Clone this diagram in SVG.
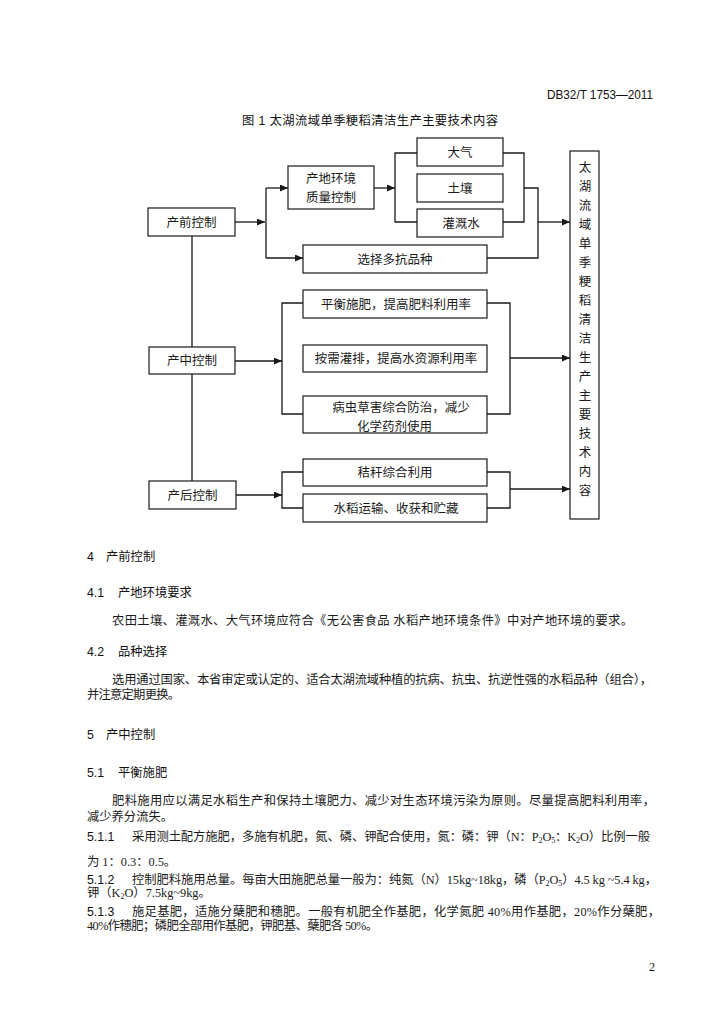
<svg xmlns="http://www.w3.org/2000/svg" width="724" height="1024" viewBox="0 0 724 1024">
<style>
.bg{fill:#ffffff}
.box{fill:#ffffff;stroke:#1a1a1a;stroke-width:1.2}
.ln{fill:none;stroke:#1a1a1a;stroke-width:1.3}
.t{font-family:"Liberation Serif","Noto Sans CJK SC",serif;font-size:12.5px;fill:#1a1a1a;text-anchor:middle}
.b{font-family:"Liberation Serif","Noto Sans CJK SC",serif;font-size:12.3px;fill:#1a1a1a}
.h{font-family:"Liberation Sans","Noto Sans CJK SC",sans-serif;font-size:12.3px;fill:#111111}
.sub{font-size:8px}
</style>
<defs>
<marker id="arr" markerUnits="userSpaceOnUse" markerWidth="8" markerHeight="7" refX="8" refY="3.5" orient="auto">
<path d="M0,0 L8,3.5 L0,7 Z" fill="#1a1a1a"/>
</marker>
</defs>
<rect class="bg" x="0" y="0" width="724" height="1024"/>

<text class="h" x="547" y="99" font-size="11.5" textLength="106" lengthAdjust="spacingAndGlyphs">DB32/T 1753—2011</text>
<text class="h" x="242" y="124.5" font-size="12.5" font-weight="normal" textLength="256" lengthAdjust="spacing">图 1 太湖流域单季粳稻清洁生产主要技术内容</text>

<g id="connectors">
<path class="ln" d="M192,236 V347 M192,374 V481"/>
<path class="ln" d="M234,222 H265" marker-end="url(#arr)"/>
<path class="ln" d="M266,188 V258"/>
<path class="ln" d="M266,188 H288" marker-end="url(#arr)"/>
<path class="ln" d="M266,258 H303" marker-end="url(#arr)"/>
<path class="ln" d="M374,188 H395" marker-end="url(#arr)"/>
<path class="ln" d="M417,153 H395 V222 H417"/>
<path class="ln" d="M503,153 H524 V222 H503 M524,188 H538 V258 H487"/>
<path class="ln" d="M538,222 H570" marker-end="url(#arr)"/>
<path class="ln" d="M235,361 H282" marker-end="url(#arr)"/>
<path class="ln" d="M303,303 H282 V414 H303"/>
<path class="ln" d="M487,303 H510 V414 H487"/>
<path class="ln" d="M510,358 H570" marker-end="url(#arr)"/>
<path class="ln" d="M236,495 H282" marker-end="url(#arr)"/>
<path class="ln" d="M303,472 H282 V508 H303"/>
<path class="ln" d="M487,472 H510 V508 H487"/>
<path class="ln" d="M510,489 H570" marker-end="url(#arr)"/>
</g>

<g id="n_pre"><rect class="box" x="148" y="208" width="87" height="28"/><text class="t" x="191.5" y="226.5">产前控制</text></g>
<g id="n_env"><rect class="box" x="288" y="166" width="86" height="43"/><text class="t" x="331" y="182.5">产地环境</text><text class="t" x="331" y="201.5">质量控制</text></g>
<g id="n_air"><rect class="box" x="417" y="138" width="86" height="28"/><text class="t" x="460" y="156.5">大气</text></g>
<g id="n_soil"><rect class="box" x="417" y="174" width="86" height="28"/><text class="t" x="460" y="192.5">土壤</text></g>
<g id="n_water"><rect class="box" x="417" y="209" width="86" height="28"/><text class="t" x="461" y="227.5">灌溉水</text></g>
<g id="n_variety"><rect class="box" x="303" y="245" width="184" height="28"/><text class="t" x="395" y="263.5">选择多抗品种</text></g>
<g id="n_mid"><rect class="box" x="149" y="347" width="86" height="27"/><text class="t" x="192" y="365">产中控制</text></g>
<g id="n_fert"><rect class="box" x="303" y="290" width="184" height="28"/><text class="t" x="396" y="308.5">平衡施肥，提高肥料利用率</text></g>
<g id="n_irr"><rect class="box" x="303" y="345" width="184" height="27"/><text class="t" x="396" y="363">按需灌排，提高水资源利用率</text></g>
<g id="n_pest"><rect class="box" x="303" y="396" width="184" height="37"/><text class="t" x="401" y="411.5">病虫草害综合防治，减少</text><text class="t" x="394.5" y="431">化学药剂使用</text></g>
<g id="n_post"><rect class="box" x="149" y="481" width="87" height="28"/><text class="t" x="192.5" y="499.5">产后控制</text></g>
<g id="n_straw"><rect class="box" x="303" y="459" width="184" height="27"/><text class="t" x="395" y="477">秸秆综合利用</text></g>
<g id="n_trans"><rect class="box" x="303" y="494" width="184" height="28"/><text class="t" x="396" y="512.5">水稻运输、收获和贮藏</text></g>
<g id="n_main"><rect class="box" x="570" y="151" width="29" height="368"/>
<text class="t" x="585">
<tspan x="585" y="171.5">太</tspan><tspan x="585" y="190.5">湖</tspan><tspan x="585" y="209.5">流</tspan><tspan x="585" y="228.5">域</tspan><tspan x="585" y="247.5">单</tspan><tspan x="585" y="266.5">季</tspan><tspan x="585" y="285.5">粳</tspan><tspan x="585" y="304.5">稻</tspan><tspan x="585" y="323.5">清</tspan><tspan x="585" y="342.5">洁</tspan><tspan x="585" y="361.5">生</tspan><tspan x="585" y="380.5">产</tspan><tspan x="585" y="399.5">主</tspan><tspan x="585" y="418.5">要</tspan><tspan x="585" y="437.5">技</tspan><tspan x="585" y="456.5">术</tspan><tspan x="585" y="475.5">内</tspan><tspan x="585" y="494.5">容</tspan>
</text></g>

<g id="body">
<text class="h" x="87" y="561">4</text><text class="h" x="106" y="561">产前控制</text>
<text class="h" x="87" y="597">4.1</text><text class="h" x="118" y="597">产地环境要求</text>
<text class="b" x="112" y="625" textLength="521" lengthAdjust="spacing">农田土壤、灌溉水、大气环境应符合《无公害食品 水稻产地环境条件》中对产地环境的要求。</text>
<text class="h" x="87" y="656">4.2</text><text class="h" x="118" y="656">品种选择</text>
<text class="b" x="112" y="684" textLength="540" lengthAdjust="spacing">选用通过国家、本省审定或认定的、适合太湖流域种植的抗病、抗虫、抗逆性强的水稻品种（组合），</text>
<text class="b" x="87" y="699" textLength="93" lengthAdjust="spacing">并注意定期更换。</text>

<text class="h" x="87" y="739">5</text><text class="h" x="106" y="739">产中控制</text>
<text class="h" x="87" y="777">5.1</text><text class="h" x="118" y="777">平衡施肥</text>
<text class="b" x="112" y="805" textLength="543" lengthAdjust="spacing">肥料施用应以满足水稻生产和保持土壤肥力、减少对生态环境污染为原则。尽量提高肥料利用率，</text>
<text class="b" x="87" y="821" textLength="86" lengthAdjust="spacing">减少养分流失。</text>
<text class="h" x="87" y="841">5.1.1</text>
<text class="b" x="132" y="841" textLength="518" lengthAdjust="spacing">采用测土配方施肥，多施有机肥，氮、磷、钾配合使用，氮：磷：钾（N：P<tspan class="sub" dy="2">2</tspan><tspan dy="-2">O</tspan><tspan class="sub" dy="2">5</tspan><tspan dy="-2">：K</tspan><tspan class="sub" dy="2">2</tspan><tspan dy="-2">O）比例一般</tspan></text>
<text class="b" x="87" y="866">为 1：0.3：0.5。</text>
<text class="h" x="87" y="884">5.1.2</text>
<text class="b" x="132" y="884" textLength="525" lengthAdjust="spacing">控制肥料施用总量。每亩大田施肥总量一般为：纯氮（N）15kg~18kg，磷（P<tspan class="sub" dy="2">2</tspan><tspan dy="-2">O</tspan><tspan class="sub" dy="2">5</tspan><tspan dy="-2">）4.5 kg ~5.4 kg，</tspan></text>
<text class="b" x="87" y="897">钾（K<tspan class="sub" dy="2">2</tspan><tspan dy="-2">O）7.5kg~9kg。</tspan></text>
<text class="h" x="87" y="916">5.1.3</text>
<text class="b" x="132" y="916" textLength="528" lengthAdjust="spacing">施足基肥，适施分蘖肥和穗肥。一般有机肥全作基肥，化学氮肥 40%用作基肥，20%作分蘖肥，</text>
<text class="b" x="87" y="930" textLength="291" lengthAdjust="spacing">40%作穗肥；磷肥全部用作基肥，钾肥基、蘖肥各 50%。</text>
<text class="b" x="649" y="971">2</text>
</g>
</svg>
